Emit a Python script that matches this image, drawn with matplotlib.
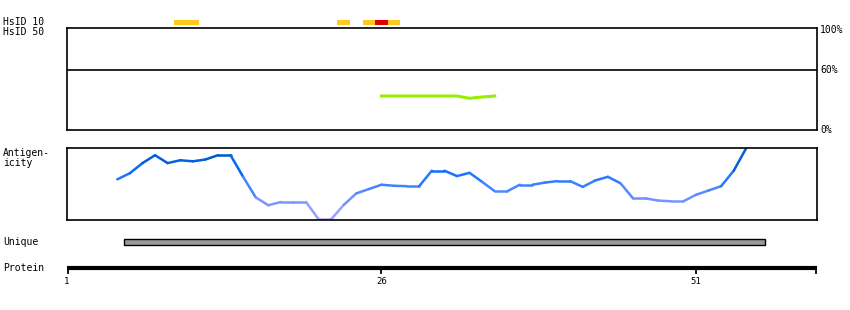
import numpy as np
import matplotlib
matplotlib.use("Agg")
import matplotlib.pyplot as plt
from matplotlib.collections import LineCollection
from matplotlib.colors import LinearSegmentedColormap

# ---- data (residue positions) ----
PROTEIN_END = 60.62
tick_res = [1, 26, 51]

hsid10_res = [10, 11, 23, 25, 26, 27]
hsid10_col = ["#ffc81e", "#ffc81e", "#ffc81e", "#ffc81e", "#e00000", "#ffc81e"]

hsid50_res = [26, 27, 28, 29, 30, 31, 32, 33, 34, 35]
hsid50_val = [34, 34, 34, 34, 34, 34, 34, 31.7, 33, 34]

antigen_res = list(range(5, 56))
antigen_val = [0.565, 0.65, 0.79, 0.90, 0.79, 0.83, 0.815, 0.84, 0.90, 0.90,
               0.60, 0.315, 0.205, 0.25, 0.25, 0.25, 0.01, 0.01, 0.21, 0.37,
               0.43, 0.49, 0.475, 0.47, 0.47, 0.685, 0.685, 0.61, 0.655, 0.53,
               0.40, 0.40, 0.49, 0.49, 0.52, 0.54, 0.54, 0.46, 0.55, 0.60,
               0.51, 0.30, 0.30, 0.27, 0.26, 0.26, 0.35, 0.41, 0.47, 0.685,
               1.0]

unique_start, unique_end = 5.5, 56.5

W, H = 850, 310
FONT = "DejaVu Sans Mono"


def px_axes(fig, x0, y0, x1, y1):
    # axes placed by pixel box (top-left origin)
    return fig.add_axes([x0 / W, 1 - y1 / H, (x1 - x0) / W, (y1 - y0) / H])


fig = plt.figure(figsize=(W / 100, H / 100), dpi=100)
fig.patch.set_facecolor("white")

# =========================
# HsID 10 strip
# =========================
ax10 = px_axes(fig, 67, 19, 817, 26)
ax10.set_xlim(1, PROTEIN_END)
ax10.set_ylim(0, 1)
ax10.bar(hsid10_res, [0.72] * len(hsid10_res), bottom=0.14, width=1.0,
         color=hsid10_col, linewidth=0)
ax10.axis("off")

# =========================
# HsID 50 box
# =========================
ax50 = px_axes(fig, 67, 28, 817, 130)
ax50.set_xlim(1, PROTEIN_END)
ax50.set_ylim(0, 102)
ax50.axhline(60, color="black", linewidth=1.2)
ax50.plot(hsid50_res, hsid50_val, color="#99ee00", linewidth=2.2,
          solid_capstyle="projecting")
ax50.set_xticks([])
ax50.set_yticks([])
for s in ax50.spines.values():
    s.set_linewidth(1.2)
for val, lab in [(100, "100%"), (60, "60%"), (0, "0%")]:
    ax50.text(1.004, val / 102, lab, transform=ax50.transAxes, fontsize=7,
              family=FONT, va="center", ha="left")

# =========================
# Antigenicity
# =========================
axag = px_axes(fig, 67, 148, 817, 220)
axag.set_xlim(1, PROTEIN_END)
axag.set_ylim(0, 1)

cmap = LinearSegmentedColormap.from_list(
    "ag", [(0.0, "#b4a8ff"), (0.3, "#7090ff"), (0.5, "#3a80ff"),
           (0.7, "#0a6cff"), (0.9, "#0058c8"), (1.0, "#0048b0")])
pts = np.column_stack([antigen_res, antigen_val])
segs = np.stack([pts[:-1], pts[1:]], axis=1)
mid = (np.array(antigen_val[:-1]) + np.array(antigen_val[1:])) / 2
lc = LineCollection(segs, colors=cmap(mid), linewidths=1.8, capstyle="round")
axag.add_collection(lc)
axag.set_xticks([])
axag.set_yticks([])
for s in axag.spines.values():
    s.set_linewidth(1.2)

# =========================
# Unique
# =========================
axu = px_axes(fig, 67, 236, 817, 248)
axu.set_xlim(1, PROTEIN_END)
axu.set_ylim(0, 1)
axu.barh(0.5, unique_end - unique_start, left=unique_start, height=0.45,
         color="#999999", edgecolor="black", linewidth=1.0)
axu.axis("off")

# =========================
# Protein axis
# =========================
axp = px_axes(fig, 67, 262, 817, 290)
axp.set_xlim(1, PROTEIN_END)
axp.set_ylim(0, 28)
axp.axis("off")
axp.plot([1, PROTEIN_END], [22, 22], color="black", linewidth=3.0,
         solid_capstyle="butt")
for r in tick_res + [PROTEIN_END]:
    xr = min(r, PROTEIN_END - 0.08)
    xr = max(xr, 1.08)
    axp.plot([xr, xr], [22, 17.5], color="black", linewidth=1.3)
for r in tick_res:
    axp.text(r, 9, str(r), fontsize=6.5, family=FONT, ha="center", va="center")

# =========================
# Left labels
# =========================
labels = [("HsID 10", 22), ("HsID 50", 32), ("Antigen-", 153),
          ("icity", 163), ("Unique", 242), ("Protein", 268)]
for txt, y in labels:
    fig.text(3 / W, 1 - y / H, txt, fontsize=7, family=FONT,
             ha="left", va="center")

fig.savefig("out.png", dpi=100, facecolor="white")
